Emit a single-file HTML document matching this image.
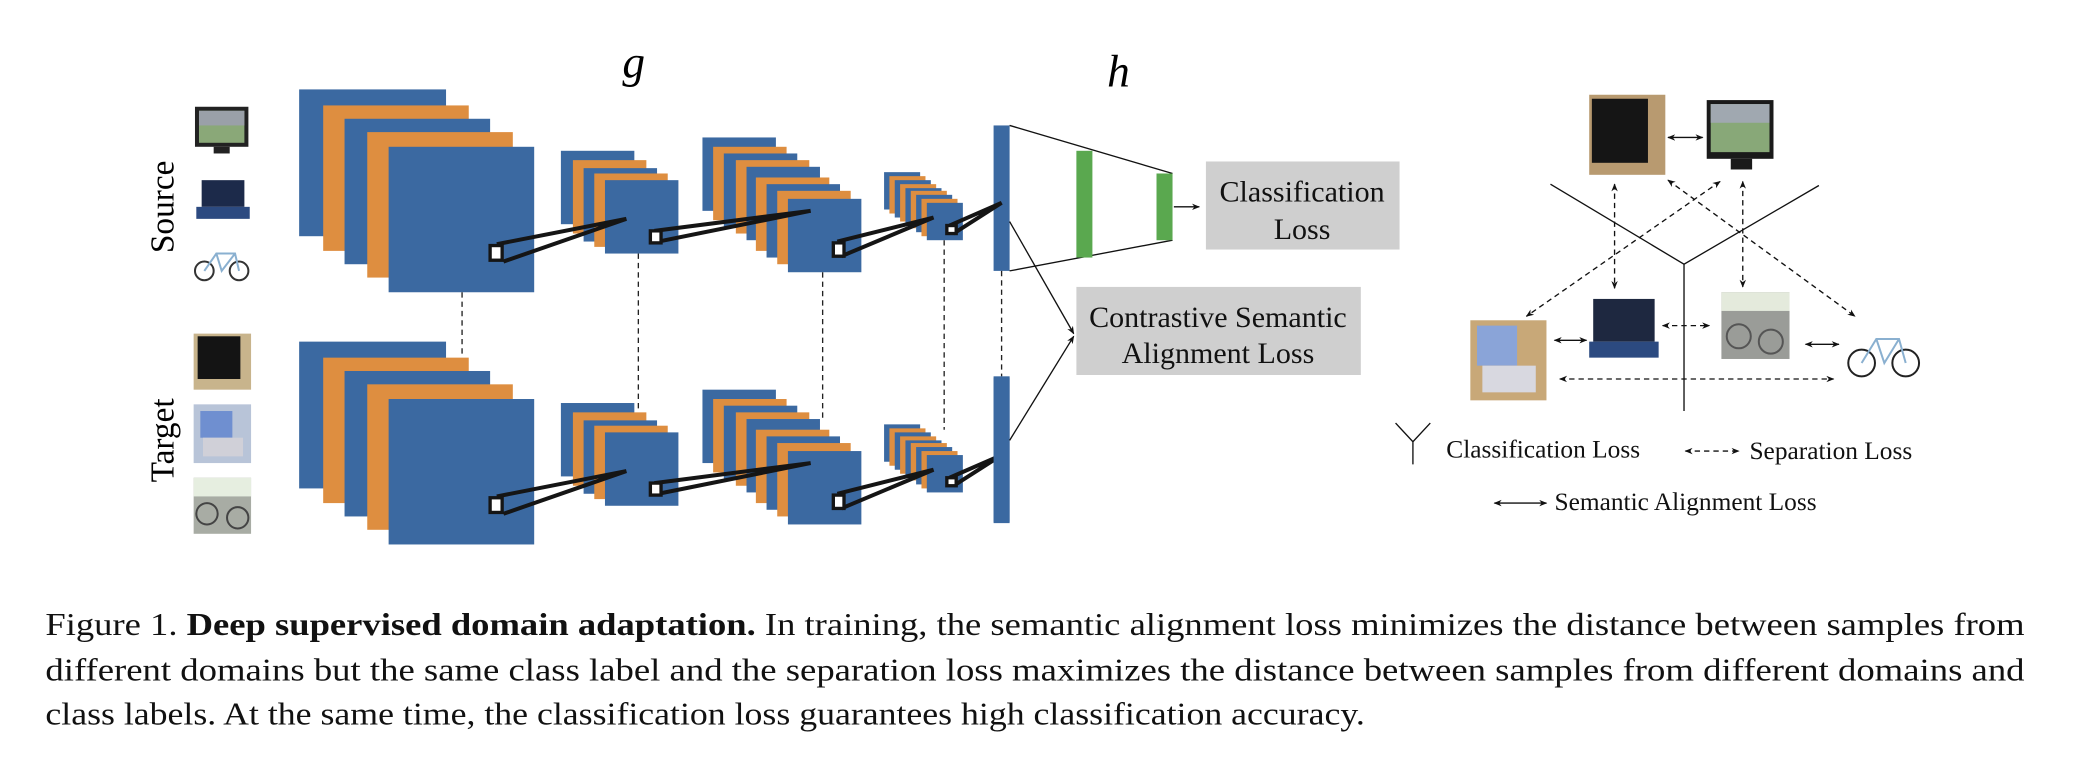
<!DOCTYPE html>
<html><head><meta charset="utf-8"><style>
html,body{margin:0;padding:0;background:#fff;}
svg{display:block;}
text{font-family:"Liberation Serif",serif;}
</style></head><body>
<svg width="2094" height="770" viewBox="0 0 1568 577" preserveAspectRatio="none" xmlns="http://www.w3.org/2000/svg">
<defs>
<marker id="ah" viewBox="0 0 10 10" refX="9" refY="5" markerWidth="6" markerHeight="6" orient="auto-start-reverse"><path d="M0,1 L10,5 L0,9 L3,5 z" fill="#111"/></marker>
<g id="net">
<rect x="224" y="67" width="110" height="110" fill="#3b69a1"/>
<rect x="242" y="79" width="109" height="109" fill="#de8e40"/>
<rect x="258" y="89" width="109" height="109" fill="#3b69a1"/>
<rect x="275" y="99" width="109" height="109" fill="#de8e40"/>
<rect x="291" y="110" width="109" height="109" fill="#3b69a1"/>
<rect x="420" y="113" width="55" height="55" fill="#3b69a1"/>
<rect x="429" y="120" width="55" height="55" fill="#de8e40"/>
<rect x="437" y="126" width="55" height="55" fill="#3b69a1"/>
<rect x="445" y="130" width="55" height="55" fill="#de8e40"/>
<rect x="453" y="135" width="55" height="55" fill="#3b69a1"/>
<rect x="526" y="103" width="55" height="55" fill="#3b69a1"/>
<rect x="534" y="110" width="55" height="55" fill="#de8e40"/>
<rect x="542" y="115" width="55" height="55" fill="#3b69a1"/>
<rect x="551" y="120" width="55" height="55" fill="#de8e40"/>
<rect x="559" y="125" width="55" height="55" fill="#3b69a1"/>
<rect x="566" y="133" width="55" height="55" fill="#de8e40"/>
<rect x="574" y="138" width="55" height="55" fill="#3b69a1"/>
<rect x="582" y="143" width="55" height="55" fill="#de8e40"/>
<rect x="590" y="149" width="55" height="55" fill="#3b69a1"/>
<rect x="662" y="129" width="27" height="28" fill="#3b69a1"/>
<rect x="666" y="132" width="27" height="28" fill="#de8e40"/>
<rect x="670" y="135" width="27" height="28" fill="#3b69a1"/>
<rect x="674" y="138" width="27" height="28" fill="#de8e40"/>
<rect x="678" y="141" width="27" height="28" fill="#3b69a1"/>
<rect x="682" y="143" width="27" height="28" fill="#de8e40"/>
<rect x="686" y="146" width="27" height="28" fill="#3b69a1"/>
<rect x="690" y="149" width="27" height="28" fill="#de8e40"/>
<rect x="694" y="152" width="27" height="28" fill="#3b69a1"/>
<rect x="744" y="94" width="12" height="109" fill="#3b69a1"/>
<g stroke="#151515" stroke-width="3" fill="none">
<path d="M372,183 L469,164 L377,196"/>
<path d="M490,173 L607,158 L493,181"/>
<path d="M627,181 L699,163 L630,192"/>
<path d="M711,169 L750,152 L714,175"/>
</g>
<g fill="#fff" stroke="#151515" stroke-width="2.5">
<rect x="367" y="184" width="9" height="11"/>
<rect x="487" y="173" width="8" height="9"/>
<rect x="624" y="182" width="8" height="10"/>
<rect x="709" y="169" width="7" height="6"/>
</g>
</g>
</defs>
<use href="#net"/>
<use href="#net" transform="translate(0,189)"/>
<g stroke="#222" stroke-width="1" stroke-dasharray="4,3">
<line x1="346" y1="219" x2="346" y2="267"/>
<line x1="478" y1="190" x2="478" y2="307"/>
<line x1="616" y1="204" x2="616" y2="315"/>
<line x1="707" y1="180" x2="707" y2="322"/>
<line x1="750" y1="203" x2="750" y2="282"/>
</g>
<text x="466" y="58" font-size="34" font-style="italic">g</text>
<text x="829" y="65" font-size="34" font-style="italic">h</text>
<text transform="translate(130,155) rotate(-90)" text-anchor="middle" font-size="25">Source</text>
<text transform="translate(130,330) rotate(-90)" text-anchor="middle" font-size="25">Target</text>
<rect x="146" y="80" width="40" height="30" fill="#222"/><rect x="149" y="83" width="34" height="24" fill="#8aa878"/><rect x="149" y="83" width="34" height="11" fill="#9aa0a8"/><rect x="160" y="110" width="12" height="5" fill="#222"/>
<rect x="151" y="135" width="32" height="20" fill="#1c2a4a"/><rect x="147" y="155" width="40" height="9" fill="#2c4a80"/>
<g fill="none" stroke="#333" stroke-width="1.5"><circle cx="153" cy="203" r="7"/><circle cx="179" cy="203" r="7"/><path d="M153,203 L162,190 L176,190 L179,203 M162,190 L166,203 L176,190" stroke="#8ab0d0"/></g>
<rect x="145" y="250" width="43" height="42" fill="#c8b48c"/><rect x="148" y="252" width="32" height="32" fill="#141414"/>
<rect x="145" y="303" width="43" height="44" fill="#b8c4d8"/><rect x="150" y="308" width="24" height="20" fill="#6f8fd0"/><rect x="152" y="328" width="30" height="14" fill="#d0d0d8"/>
<rect x="145" y="358" width="43" height="42" fill="#a8aca4"/><rect x="145" y="358" width="43" height="14" fill="#e6eee0"/><g fill="none" stroke="#444" stroke-width="1.5"><circle cx="155" cy="385" r="8"/><circle cx="178" cy="388" r="8"/></g>
<rect x="744" y="282" width="12" height="109" fill="#3b69a1"/>
<g stroke="#111" stroke-width="1" fill="none">
<line x1="756" y1="94" x2="878" y2="130"/>
<line x1="756" y1="203" x2="878" y2="180"/>
<line x1="879" y1="155" x2="898" y2="155" marker-end="url(#ah)"/>
<line x1="756" y1="166" x2="804" y2="250" marker-end="url(#ah)"/>
<line x1="756" y1="330" x2="804" y2="252" marker-end="url(#ah)"/>
</g>
<rect x="806" y="113" width="12" height="80" fill="#5aa84f"/>
<rect x="866" y="130" width="12" height="50" fill="#5aa84f"/>
<rect x="903" y="121" width="145" height="66" fill="#cfcfcf"/>
<text x="975" y="151" font-size="22.5" text-anchor="middle" fill="#111">Classification</text>
<text x="975" y="179" font-size="22.5" text-anchor="middle" fill="#111">Loss</text>
<rect x="806" y="215" width="213" height="66" fill="#cfcfcf"/>
<text x="912" y="245" font-size="22.5" text-anchor="middle" fill="#111">Contrastive Semantic</text>
<text x="912" y="272" font-size="22.5" text-anchor="middle" fill="#111">Alignment Loss</text>
<rect x="1190" y="71" width="57" height="60" fill="#b89a70"/><rect x="1192" y="74" width="42" height="48" fill="#151515"/>
<rect x="1278" y="75" width="50" height="44" fill="#1a1a1a"/><rect x="1281" y="78" width="44" height="36" fill="#88a878"/><rect x="1281" y="78" width="44" height="14" fill="#a0a8b0"/><rect x="1296" y="119" width="16" height="8" fill="#1a1a1a"/>
<rect x="1101" y="240" width="57" height="60" fill="#c8a878"/><rect x="1106" y="244" width="30" height="30" fill="#8aa4d8"/><rect x="1110" y="274" width="40" height="20" fill="#d8d8e0"/>
<rect x="1193" y="224" width="46" height="32" fill="#1e2840"/><rect x="1190" y="256" width="52" height="12" fill="#2c4a80"/>
<rect x="1289" y="219" width="51" height="50" fill="#9a9c98"/><rect x="1289" y="219" width="51" height="14" fill="#e4eadc"/><g fill="none" stroke="#555" stroke-width="1.5"><circle cx="1302" cy="252" r="9"/><circle cx="1326" cy="256" r="9"/></g>
<g fill="none" stroke="#222" stroke-width="1.5"><circle cx="1394" cy="272" r="10"/><circle cx="1427" cy="272" r="10"/><path d="M1394,272 L1405,254 L1422,254 L1427,272 M1405,254 L1411,272 L1422,254" stroke="#8ab0d0"/></g>
<g stroke="#111" stroke-width="1" fill="none">
<path d="M1161,138 L1261,198 L1362,139 M1261,198 L1261,308"/>
<g marker-start="url(#ah)" marker-end="url(#ah)">
<line x1="1249" y1="103" x2="1275" y2="103"/>
<line x1="1164" y1="255" x2="1188" y2="255"/>
<line x1="1352" y1="258" x2="1377" y2="258"/>
<line x1="1119" y1="377" x2="1158" y2="377"/>
<g stroke-dasharray="4,3">
<line x1="1209" y1="138" x2="1209" y2="216"/>
<line x1="1305" y1="136" x2="1305" y2="215"/>
<line x1="1288" y1="136" x2="1143" y2="237"/>
<line x1="1249" y1="135" x2="1389" y2="237"/>
<line x1="1245" y1="244" x2="1280" y2="244"/>
<line x1="1168" y1="284" x2="1373" y2="284"/>
<line x1="1262" y1="338" x2="1302" y2="338"/>
</g>
</g>
<path d="M1045,317 L1058,331 L1071,317 M1058,331 L1058,348"/>
</g>
<text x="1083" y="343" font-size="19" fill="#111">Classification Loss</text>
<text x="1310" y="344" font-size="19" fill="#111">Separation Loss</text>
<text x="1164" y="382" font-size="19" fill="#111">Semantic Alignment Loss</text>
<text x="34" y="476" font-size="24" textLength="1482" lengthAdjust="spacingAndGlyphs" fill="#111">Figure 1. <tspan font-weight="bold">Deep supervised domain adaptation.</tspan> In training, the semantic alignment loss minimizes the distance between samples from</text>
<text x="34" y="510" font-size="24" textLength="1482" lengthAdjust="spacingAndGlyphs" fill="#111">different domains but the same class label and the separation loss maximizes the distance between samples from different domains and</text>
<text x="34" y="543" font-size="24" textLength="988" lengthAdjust="spacingAndGlyphs" fill="#111">class labels. At the same time, the classification loss guarantees high classification accuracy.</text>
</svg>
</body></html>
